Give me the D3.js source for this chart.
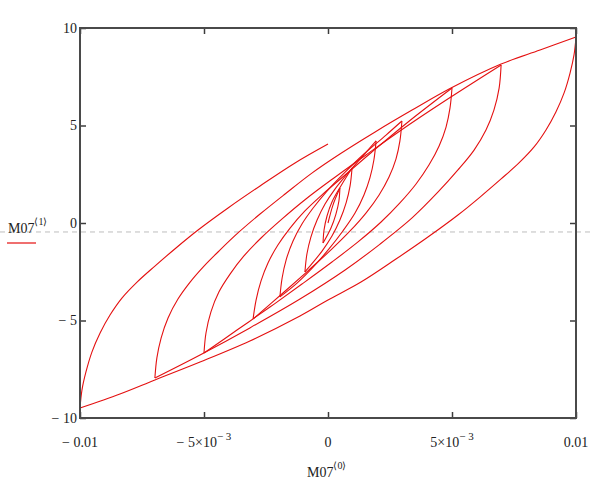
<!DOCTYPE html>
<html>
<head>
<meta charset="utf-8">
<script src="https://cdn.jsdelivr.net/npm/d3@7"></script>
<style>
body{margin:0;background:#fff}
text{font-family:"Liberation Serif","Times New Roman",serif;fill:#222}
</style>
</head>
<body>
<svg id="mysvg" width="591" height="493"></svg>
<script>
// axis ticks
const xTicks = [-0.01, -0.005, 0, 0.005, 0.01]
const xTickText = ["− 0.01", "− 5×10", "0", "5×10", "0.01"]
const xTickExp = ["", "− 3", "", "− 3", ""]
const yTicks = [-10, -5, 0, 5, 10]
const yTickText = ["− 10", "− 5", "0", "5", "10"]
const markerY = -0.46 // dashed marker on M07<1>

// hysteresis branches, M07<0> vs M07<1>, in drawing order
const virgin = [[0, 0], [0.0002, 0.92], [0.00048, 1.79]]
const unload05 = [[0.00048, 1.79], [0.00044, 1.13], [0.00032, 0.46], [0.00012, -0.26], [-0.0002, -1.03]]
const load05 = [[-0.0002, -1.03], [-0.00016, -0.36], [-0.00004, 0.36], [0.00016, 1.08], [0.00052, 1.90], [0.00097, 2.82]]
const unload1 = [[0.00097, 2.82], [0.00089, 1.90], [0.00073, 1.03], [0.00048, 0.15], [0.00016, -0.67], [-0.00024, -1.44], [-0.00093, -2.51]]
const load1 = [[-0.00093, -2.51], [-0.00085, -1.59], [-0.00069, -0.72], [-0.00044, 0.15], [-0.00012, 0.97], [0.00028, 1.74], [0.00077, 2.51], [0.00133, 3.33], [0.00194, 4.21]]
const unload2 = [[0.00194, 4.21], [0.00185, 3.23], [0.00169, 2.31], [0.00145, 1.44], [0.00109, 0.51], [0.0006, -0.41], [0.00004, -1.33], [-0.0006, -2.26], [-0.00125, -3.08], [-0.00194, -3.79]]
const load2 = [[-0.00194, -3.79], [-0.00185, -2.82], [-0.00169, -1.90], [-0.00141, -0.92], [-0.00105, -0.05], [-0.0006, 0.77], [-0.00004, 1.64], [0.00065, 2.56], [0.00145, 3.54], [0.00234, 4.51], [0.00298, 5.23]]
const unload3 = [[0.00298, 5.23], [0.0029, 4.21], [0.00274, 3.28], [0.00246, 2.36], [0.00206, 1.44], [0.00153, 0.51], [0.00089, -0.41], [0.00012, -1.38], [-0.00077, -2.41], [-0.00177, -3.54], [-0.00302, -4.92]]
const load3 = [[-0.00302, -4.92], [-0.0029, -3.95], [-0.0027, -2.97], [-0.00242, -2.05], [-0.00202, -1.13], [-0.00153, -0.26], [-0.00093, 0.62], [-0.0002, 1.49], [0.00069, 2.46], [0.00177, 3.64], [0.00323, 5.18], [0.005, 6.92]]
const unload5 = [[0.005, 6.92], [0.00492, 5.90], [0.00476, 4.92], [0.00448, 3.95], [0.00407, 2.97], [0.00355, 2.0], [0.0029, 1.03], [0.00214, 0.05], [0.00121, -0.97], [0.00016, -2.0], [-0.00105, -3.13], [-0.00234, -4.31], [-0.00367, -5.49], [-0.005, -6.67]]
const load5 = [[-0.005, -6.67], [-0.00492, -5.64], [-0.00472, -4.56], [-0.0044, -3.54], [-0.00395, -2.62], [-0.00339, -1.69], [-0.0027, -0.77], [-0.00185, 0.21], [-0.00089, 1.23], [0.00024, 2.31], [0.00153, 3.49], [0.0029, 4.72], [0.00452, 6.10], [0.00698, 8.10]]
const unload7 = [[0.00698, 8.10], [0.0069, 6.92], [0.00669, 5.79], [0.00637, 4.77], [0.00589, 3.74], [0.00524, 2.72], [0.00444, 1.59], [0.00339, 0.26], [0.0021, -1.08], [0.00069, -2.41], [-0.00113, -3.90], [-0.00315, -5.38], [-0.00516, -6.77], [-0.00698, -7.95]]
const load7 = [[-0.00698, -7.95], [-0.0069, -6.92], [-0.00673, -5.90], [-0.00645, -4.87], [-0.00605, -3.90], [-0.00556, -3.03], [-0.005, -2.21], [-0.00435, -1.38], [-0.00363, -0.51], [-0.00274, 0.46], [-0.00173, 1.49], [-0.00065, 2.56], [0.00048, 3.54], [0.0019, 4.67], [0.00339, 5.79], [0.00496, 6.92], [0.00698, 8.15], [0.00855, 8.87], [0.01, 9.54]]
const unload10 = [[0.01, 9.54], [0.00992, 8.62], [0.00976, 7.69], [0.00952, 6.67], [0.00919, 5.69], [0.00879, 4.77], [0.00831, 3.90], [0.0077, 3.08], [0.00698, 2.26], [0.00613, 1.33], [0.00524, 0.41], [0.00403, -0.72], [0.00274, -1.85], [0.00133, -3.03], [0, -3.95], [-0.00113, -4.77], [-0.00315, -6.05], [-0.00516, -7.13], [-0.00698, -8.05], [-0.00839, -8.77], [-0.01, -9.49]]
const load10 = [[-0.01, -9.49], [-0.00992, -8.56], [-0.00976, -7.64], [-0.00952, -6.62], [-0.00919, -5.64], [-0.00879, -4.72], [-0.00831, -3.85], [-0.0077, -3.03], [-0.00698, -2.21], [-0.00613, -1.28], [-0.00524, -0.36], [-0.00403, 0.77], [-0.00274, 1.90], [-0.00133, 3.08], [0, 4.05]]

const branches = [virgin, unload05, load05, unload1, load1, unload2, load2, unload3, load3, unload5, load5, unload7, load7, unload10, load10]

const svg = d3.select('#mysvg')
const plot = { left: 80, right: 576, top: 28, bottom: 418 }

let xScale = d3.scaleLinear().domain([-0.01, 0.01]).range([plot.left, plot.right])
let yScale = d3.scaleLinear().domain([-10, 10]).range([plot.bottom, plot.top])

// marker line
svg.append('line')
  .attr('x1', 0).attr('x2', 591)
  .attr('y1', yScale(markerY)).attr('y2', yScale(markerY))
  .attr('stroke', '#bdbdbd').attr('stroke-width', 1).attr('stroke-dasharray', '5,4')

// curve
let lineGenerator = d3.line()
  .x(d => xScale(d[0]))
  .y(d => yScale(d[1]))
  .curve(d3.curveCatmullRom.alpha(0.5))

svg.append('g').selectAll('path').data(branches).join('path')
  .attr('d', d => lineGenerator(d))
  .attr('fill', 'none').attr('stroke', '#e41010').attr('stroke-width', 1.1)

// ticks on all four sides, pointing in
const tickLen = 6
svg.append('g').attr('transform', `translate(0,${plot.bottom})`)
  .call(d3.axisBottom(xScale).tickValues(xTicks).tickSizeInner(-tickLen).tickSizeOuter(0).tickFormat(''))
svg.append('g').attr('transform', `translate(0,${plot.top})`)
  .call(d3.axisTop(xScale).tickValues(xTicks).tickSizeInner(-tickLen).tickSizeOuter(0).tickFormat(''))
svg.append('g').attr('transform', `translate(${plot.left},0)`)
  .call(d3.axisLeft(yScale).tickValues(yTicks).tickSizeInner(-tickLen).tickSizeOuter(0).tickFormat(''))
svg.append('g').attr('transform', `translate(${plot.right},0)`)
  .call(d3.axisRight(yScale).tickValues(yTicks).tickSizeInner(-tickLen).tickSizeOuter(0).tickFormat(''))
svg.selectAll('.domain').remove()
svg.selectAll('.tick line').attr('stroke', '#3c3c3c').attr('stroke-width', 1.5)

// frame
svg.append('rect')
  .attr('x', plot.left).attr('y', plot.top)
  .attr('width', plot.right - plot.left).attr('height', plot.bottom - plot.top)
  .attr('fill', 'none').attr('stroke', '#4a4a4a').attr('stroke-width', 2)

// y tick labels
svg.append('g').selectAll('text').data(yTicks).join('text')
  .attr('x', plot.left - 3).attr('y', d => yScale(d)).attr('dy', '0.35em')
  .attr('text-anchor', 'end').style('font-size', '14px')
  .text((d, i) => yTickText[i])

// x tick labels with exponent
let xl = svg.append('g').selectAll('text').data(xTicks).join('text')
  .attr('x', d => xScale(d)).attr('y', 447)
  .attr('text-anchor', 'middle').style('font-size', '14px')
xl.append('tspan').text((d, i) => xTickText[i])
xl.append('tspan').attr('dy', -7).style('font-size', '11px').text((d, i) => xTickExp[i])

// axis title
let xt = svg.append('text').attr('x', 307).attr('y', 477).style('font-size', '14px')
xt.append('tspan').text('M07')
xt.append('tspan').attr('dy', -8).style('font-size', '10px').text('⟨0⟩')

// legend
let lt = svg.append('text').attr('x', 8).attr('y', 233).style('font-size', '14px')
lt.append('tspan').text('M07')
lt.append('tspan').attr('dy', -8).style('font-size', '10px').text('⟨1⟩')
svg.append('line').attr('x1', 7).attr('x2', 36).attr('y1', 243).attr('y2', 243)
  .attr('stroke', '#e41010').attr('stroke-width', 1.2)
</script>
</body>
</html>
